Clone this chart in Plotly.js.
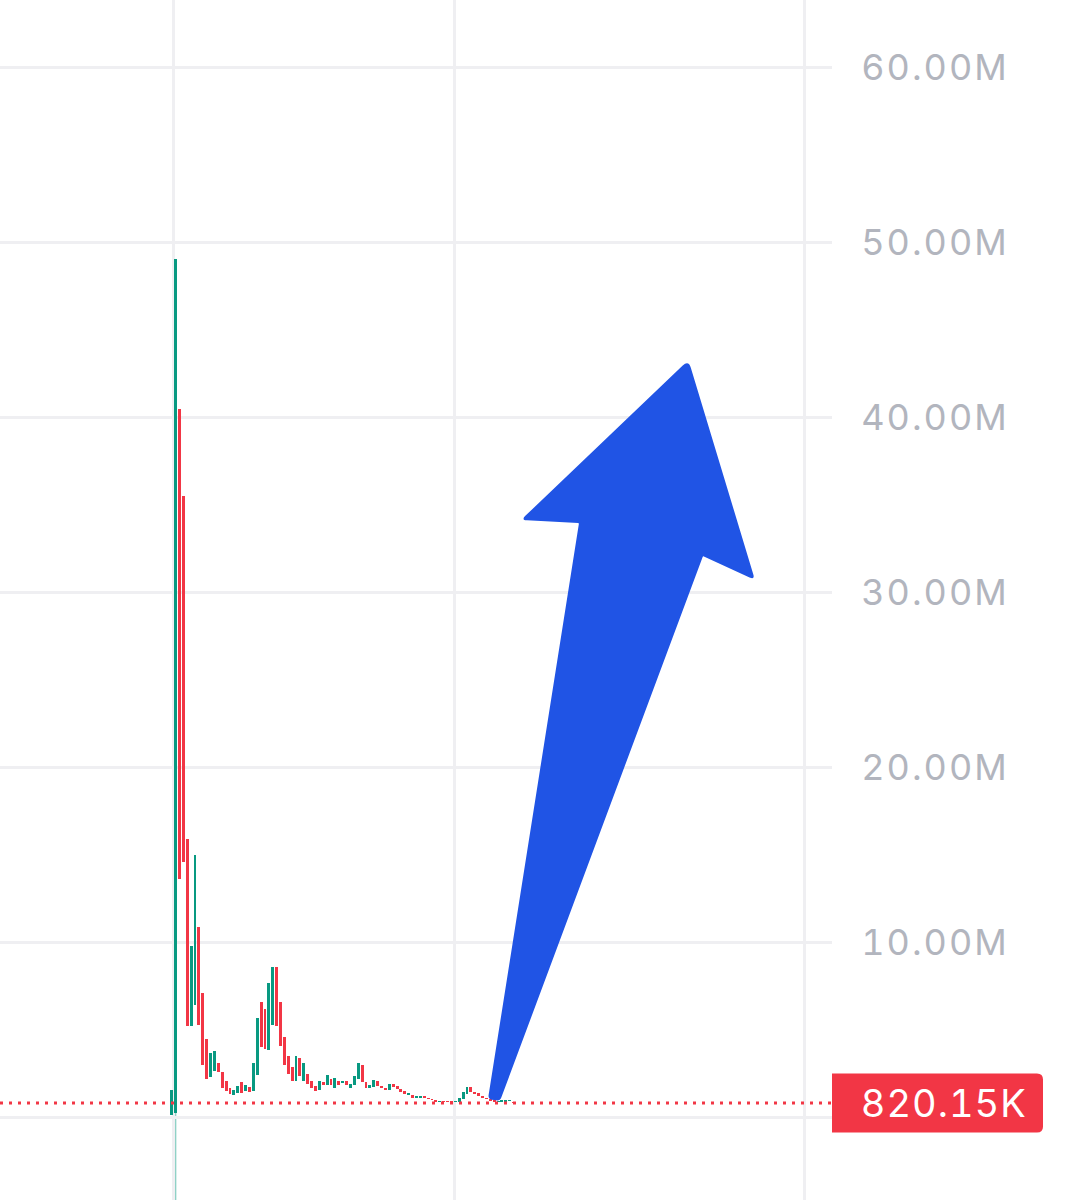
<!DOCTYPE html>
<html>
<head>
<meta charset="utf-8">
<script src="https://cdn.plot.ly/plotly-3.0.1.min.js"></script>
<style>
  html, body { margin: 0; padding: 0; background: #ffffff; }
  #chart { width: 1085px; height: 1200px; }
  #chart .ytick text { font-feature-settings: "tnum" 1; letter-spacing: 2px; }
  #chart .annotation-text { font-feature-settings: "tnum" 1; letter-spacing: 1px; }
</style>
</head>
<body>
<div id="chart"></div>
<script>
// ---- data (values in millions) ----
const openM = [0.15, 0.25, 40.5, 35.5, 15.9, 5.2, 6.4, 10.9, 7.1, 4.5,
  2.3, 2.65, 3.1, 2.6, 2.1, 1.7, 1.3, 1.4, 2.0, 1.5,
  1.75, 1.5, 2.4, 6.6, 6.2, 3.85, 5.3, 8.6, 6.6, 4.6,
  3.5, 2.9, 2.1, 3.4, 2.05, 2.5, 2.1, 1.8, 1.55, 2.0,
  1.85, 2.2, 1.7, 2.1, 1.95, 2.05, 1.7, 1.85, 2.2, 3.0,
  2.0, 1.65, 1.75, 2.1, 1.8, 1.7, 1.56, 1.93, 1.8, 1.63,
  1.5, 1.28, 1.26, 1.13, 1.13, 1.22, 1.13, 1.07, 1.0, 0.85,
  0.93, 0.93, 0.93, 0.85, 0.89, 1.04, 1.33, 1.74, 1.42, 1.37,
  1.24, 1.13, 1.05, 0.98, 0.88, 0.9, 0.9, 0.92, 0.9];
const closeM = [1.55, 49.1, 13.6, 14.6, 5.2, 9.8, 15.0, 5.3, 3.0, 2.2,
  3.7, 3.8, 2.6, 1.7, 1.5, 1.35, 1.55, 1.8, 1.4, 1.85,
  1.45, 3.1, 5.7, 4.0, 3.9, 7.7, 8.6, 5.2, 4.1, 3.0,
  2.45, 2.1, 3.5, 2.35, 3.1, 1.9, 1.7, 1.5, 2.1, 1.85,
  2.4, 1.85, 2.25, 1.85, 2.05, 1.85, 1.9, 2.35, 3.1, 2.0,
  1.7, 1.85, 2.15, 1.8, 1.65, 1.55, 1.93, 1.74, 1.6, 1.46,
  1.35, 1.37, 1.13, 1.22, 1.22, 1.09, 1.03, 0.96, 0.89, 0.93,
  0.85, 0.85, 0.85, 0.95, 1.11, 1.42, 1.74, 1.42, 1.31, 1.24,
  1.13, 1.02, 0.93, 0.9, 0.93, 0.93, 0.97, 1.0, 0.82];
const lastPrice = 820150;
const lastPriceText = '820.15K';
const tickValsM = [0, 10, 20, 30, 40, 50, 60];
const tickText = ['', '10.00M', '20.00M', '30.00M', '40.00M', '50.00M', '60.00M'];

// ---- derived ----
const UP = '#089981', DOWN = '#F23645';
const idx = openM.map((_, i) => i);
const base = openM.map((o, i) => Math.min(o, closeM[i]) * 1e6);
const hgt = openM.map((o, i) => Math.max(Math.abs(closeM[i] - o) * 1e6, 60000));
const cols = openM.map((o, i) => closeM[i] >= o ? UP : DOWN);

const Y0 = -4.73e6, Y1 = 63.88e6;
const X0 = -44.2, X1 = 169.96;
const PW = 832, PH = 1200;  // plot area px

function px2p(x, y) { return [x / PW, 1 - y / PH]; }
function roundedPath(pts, radii) {
  const n = pts.length; let d = '';
  for (let i = 0; i < n; i++) {
    const p = pts[i], a = pts[(i - 1 + n) % n], b = pts[(i + 1) % n], r = radii[i];
    const la = Math.hypot(a[0]-p[0], a[1]-p[1]), lb = Math.hypot(b[0]-p[0], b[1]-p[1]);
    const s = [p[0] + (a[0]-p[0]) * r / la, p[1] + (a[1]-p[1]) * r / la];
    const e = [p[0] + (b[0]-p[0]) * r / lb, p[1] + (b[1]-p[1]) * r / lb];
    const S = px2p(s[0], s[1]), P = px2p(p[0], p[1]), E = px2p(e[0], e[1]);
    d += (i === 0 ? 'M' : 'L') + S[0] + ',' + S[1] + ' Q' + P[0] + ',' + P[1] + ' ' + E[0] + ',' + E[1] + ' ';
  }
  return d + 'Z';
}

// arrow polygon (px)
const arrowPts = [[688.5, 360], [755, 580], [703, 556], [500, 1101], [488, 1099], [579, 523], [521, 520]];
const arrowR = [8, 6, 1, 4, 4, 1, 6];

// price box
const priceYpx = PH * (1 - (lastPrice - Y0) / (Y1 - Y0));
const boxPts = [[832, priceYpx - 29.5], [1043, priceYpx - 29.5], [1043, priceYpx + 29.5], [832, priceYpx + 29.5]];
const boxR = [0.01, 6, 6, 0.01];

const traces = [{
  type: 'bar', x: idx, y: hgt, base: base,
  marker: { color: cols, line: { width: 0 } },
  width: 0.75, hoverinfo: 'skip'
}];

const layout = {
  width: 1085, height: 1200,
  margin: { l: 0, r: 253, t: 0, b: 0, pad: 0 },
  paper_bgcolor: '#ffffff', plot_bgcolor: '#ffffff',
  showlegend: false,
  bargap: 0,
  xaxis: {
    range: [X0, X1], showticklabels: false, zeroline: false,
    tickvals: [0.46, 72.9, 163.0], showgrid: true, gridcolor: '#efeff2', gridwidth: 3,
    showline: false, ticks: ''
  },
  yaxis: {
    side: 'right', range: [Y0, Y1],
    tickvals: tickValsM.map(v => v * 1e6), ticktext: tickText,
    showgrid: true, gridcolor: '#efeff2', gridwidth: 3, zeroline: false,
    ticks: 'outside', ticklen: 21, tickcolor: 'rgba(0,0,0,0)',
    tickfont: { family: 'Inter, Roboto, sans-serif', size: 36, color: '#b2b5be' },
    showline: false
  },
  shapes: [
    { type: 'line', xref: 'x', yref: 'y', x0: 1, x1: 1, y0: 0.3e6, y1: Y0,
      line: { color: 'rgba(8,153,129,0.45)', width: 1.5 }, layer: 'below' },
    { type: 'line', xref: 'paper', yref: 'y', x0: 0, x1: 1, y0: lastPrice, y1: lastPrice,
      line: { color: DOWN, width: 3, dash: '3px,6px' }, layer: 'above' },
    { type: 'path', xref: 'paper', yref: 'paper', path: roundedPath(arrowPts, arrowR),
      fillcolor: '#2054E5', line: { width: 0 }, layer: 'above' },
    { type: 'path', xref: 'paper', yref: 'paper', path: roundedPath(boxPts, boxR),
      fillcolor: '#F23645', line: { width: 0 }, layer: 'above' }
  ],
  annotations: [{
    xref: 'paper', yref: 'paper', x: 943.5 / PW, y: 1 - priceYpx / PH,
    xanchor: 'center', yanchor: 'middle', showarrow: false,
    text: lastPriceText,
    font: { family: 'Inter, Roboto, sans-serif', size: 38, color: '#ffffff' }
  }]
};

Plotly.newPlot('chart', traces, layout, { staticPlot: true, displayModeBar: false });
</script>
</body>
</html>
